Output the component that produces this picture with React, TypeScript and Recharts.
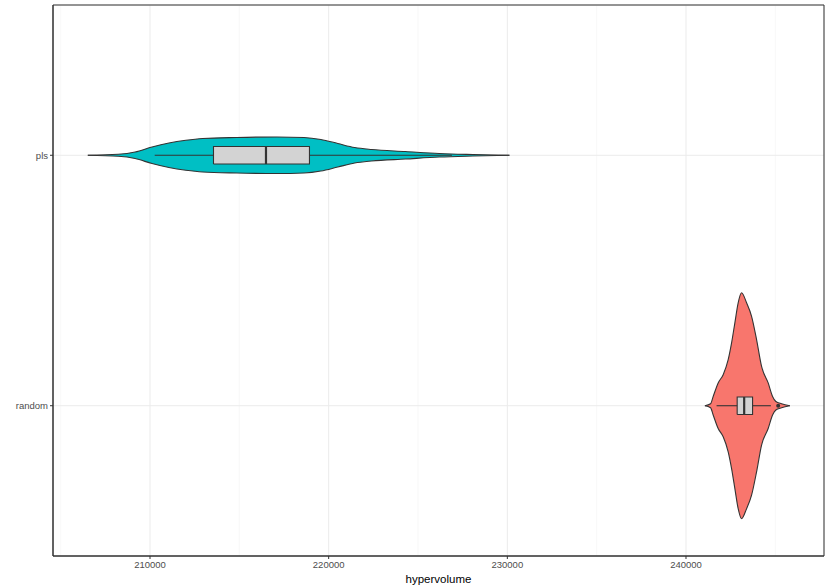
import { ComposedChart, Area, Line, Scatter, XAxis, YAxis, CartesianGrid, ReferenceArea } from 'recharts'

// categories bottom → top (y = 1, 2)
const categories = ['random', 'pls']

const xTicks = [210000, 220000, 230000, 240000]
const xMinorTicks = [205000, 215000, 225000, 235000, 245000]

// violin outlines: hypervolume positions and half width (in category units)
const plsX = [206519, 208220, 209166, 210112, 211058, 212004, 212949, 214841, 217108, 218620, 219565, 220511, 221457, 222403, 224294, 226186, 228075, 230117]
const plsHalf = [0, 0.004, 0.013, 0.033, 0.049, 0.06, 0.067, 0.071, 0.073, 0.071, 0.063, 0.047, 0.031, 0.023, 0.015, 0.007, 0.003, 0]

const randomX = [241058, 241376, 241522, 241802, 242082, 242362, 242552, 242736, 242921, 243111, 243391, 243671, 243951, 244231, 244600, 244846, 245030, 245350, 245814]
const randomHalf = [0, 0.008, 0.037, 0.091, 0.124, 0.184, 0.251, 0.331, 0.411, 0.451, 0.411, 0.357, 0.264, 0.157, 0.091, 0.037, 0.017, 0.008, 0]

// box stats: lower whisker, q1, median, q3, upper whisker
const plsStats = [210263, 213553, 216491, 218925, 226900]
const randomStats = [241712, 242865, 243257, 243727, 244751]
const randomOutliers = [245160]

const X_DOMAIN = [204570, 247725]
const BOX_HALF = 0.035
const OUTLINE = '#333333'
const FONT = '"Liberation Sans", Arial, sans-serif'

const violinRows = (xs: number[], hs: number[], c: number) =>
  xs.map((x, i) => ({ x, band: [c - hs[i], c + hs[i]] }))

function boxParts(stats: number[], c: number) {
  const [lo, q1, med, q3, hi] = stats
  return {
    fill: [
      { x: q1, band: [c - BOX_HALF, c + BOX_HALF] },
      { x: q3, band: [c - BOX_HALF, c + BOX_HALF] },
    ],
    outline: [
      { x: q1, y: c - BOX_HALF },
      { x: q3, y: c - BOX_HALF },
      { x: q3, y: c + BOX_HALF },
      { x: q1, y: c + BOX_HALF },
      { x: q1, y: c - BOX_HALF },
    ],
    median: [
      { x: med, y: c - BOX_HALF },
      { x: med, y: c + BOX_HALF },
    ],
    lower: [
      { x: lo, y: c },
      { x: q1, y: c },
    ],
    upper: [
      { x: q3, y: c },
      { x: hi, y: c },
    ],
  }
}

const series = [
  { name: 'pls', pos: 2, color: '#00BFC4', violin: violinRows(plsX, plsHalf, 2), box: boxParts(plsStats, 2), outliers: [] as number[] },
  { name: 'random', pos: 1, color: '#F8766D', violin: violinRows(randomX, randomHalf, 1), box: boxParts(randomStats, 1), outliers: randomOutliers },
]

export default function App() {
  return (
    <div style={{ position: 'absolute', left: 0, top: 0, width: 830, height: 588, background: '#fff' }}>
      <ComposedChart width={830} height={588} margin={{ top: 5, right: 6, bottom: 0, left: 0 }}>
        <CartesianGrid xAxisId="minor" horizontal={false} stroke="#f4f4f4" strokeWidth={0.6} />
        <CartesianGrid stroke="#ebebeb" strokeWidth={1} />
        <XAxis
          dataKey="x"
          type="number"
          domain={X_DOMAIN}
          allowDataOverflow
          ticks={xTicks}
          interval={0}
          height={32}
          tickSize={3}
          tickMargin={2}
          axisLine={{ stroke: OUTLINE }}
          tickLine={{ stroke: OUTLINE }}
          tick={{ fill: '#4d4d4d', fontSize: 9.5, fontFamily: FONT }}
          label={{ value: 'hypervolume', position: 'insideBottom', offset: 5, fill: '#000', fontSize: 11.5, fontFamily: FONT }}
        />
        <XAxis xAxisId="minor" dataKey="x" type="number" domain={X_DOMAIN} allowDataOverflow ticks={xMinorTicks} interval={0} hide />
        <YAxis
          type="number"
          domain={[0.4, 2.6]}
          allowDataOverflow
          ticks={[1, 2]}
          interval={0}
          width={53}
          tickSize={3}
          tickMargin={2}
          tickFormatter={(v: number) => categories[v - 1]}
          axisLine={{ stroke: OUTLINE }}
          tickLine={{ stroke: OUTLINE }}
          tick={{ fill: '#4d4d4d', fontSize: 9.5, fontFamily: FONT }}
        />
        {series.map((s) => (
          <Area
            key={`violin-${s.name}`}
            data={s.violin}
            dataKey="band"
            type="monotone"
            fill={s.color}
            fillOpacity={1}
            stroke={OUTLINE}
            strokeWidth={1.1}
            dot={false}
            activeDot={false}
            isAnimationActive={false}
          />
        ))}
        {series.map((s) => (
          <Area
            key={`boxfill-${s.name}`}
            data={s.box.fill}
            dataKey="band"
            type="linear"
            fill="#d3d3d3"
            fillOpacity={1}
            stroke="none"
            dot={false}
            activeDot={false}
            isAnimationActive={false}
          />
        ))}
        {series.flatMap((s) =>
          (['lower', 'upper', 'outline'] as const).map((part) => (
            <Line
              key={`${part}-${s.name}`}
              data={s.box[part]}
              dataKey="y"
              type="linear"
              stroke={OUTLINE}
              strokeWidth={1.1}
              dot={false}
              activeDot={false}
              isAnimationActive={false}
            />
          ))
        )}
        {series.map((s) => (
          <Line
            key={`median-${s.name}`}
            data={s.box.median}
            dataKey="y"
            type="linear"
            stroke={OUTLINE}
            strokeWidth={2.2}
            dot={false}
            activeDot={false}
            isAnimationActive={false}
          />
        ))}
        {series
          .filter((s) => s.outliers.length > 0)
          .map((s) => (
            <Scatter
              key={`out-${s.name}`}
              data={s.outliers.map((x) => ({ x, y: s.pos }))}
              dataKey="y"
              shape={(p: any) => <circle cx={p.cx} cy={p.cy} r={2} fill={OUTLINE} />}
              isAnimationActive={false}
            />
          ))}
        <ReferenceArea x1={X_DOMAIN[0]} x2={X_DOMAIN[1]} y1={0.4} y2={2.6} fill="none" stroke={OUTLINE} strokeWidth={1} />
      </ComposedChart>
    </div>
  )
}
